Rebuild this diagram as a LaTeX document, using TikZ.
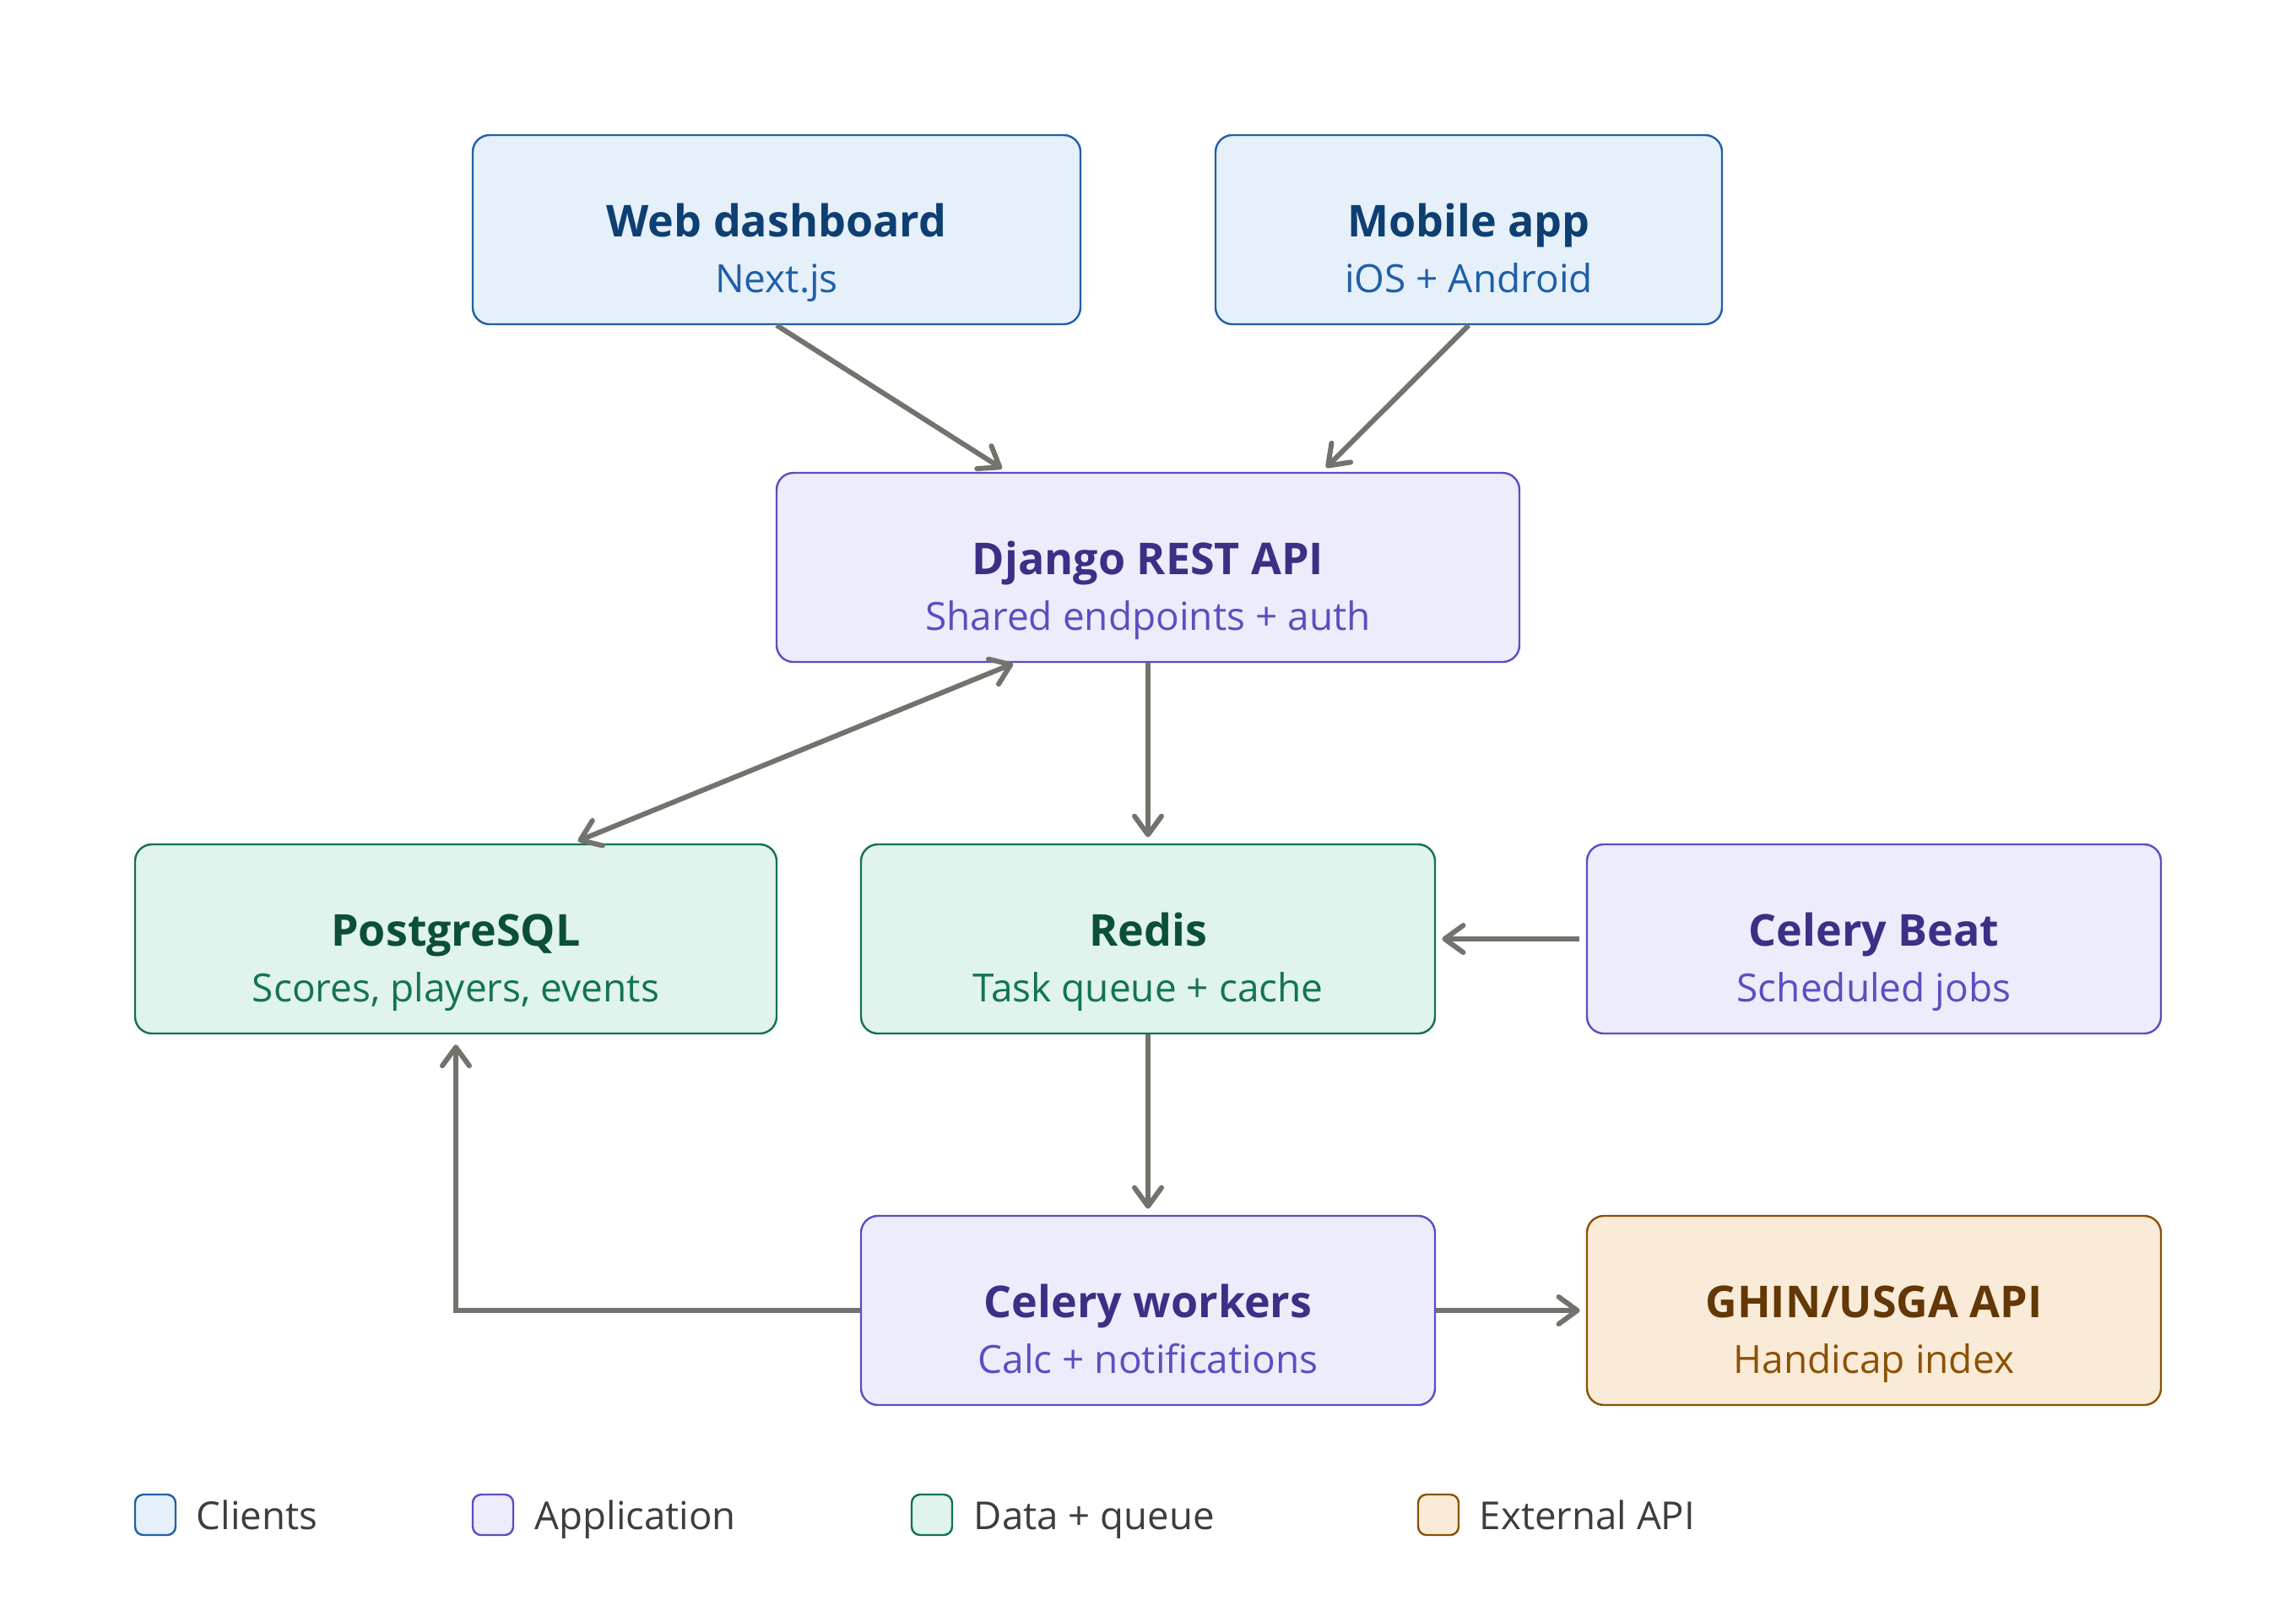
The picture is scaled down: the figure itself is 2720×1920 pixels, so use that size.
\documentclass[tikz,border=0pt]{standalone}
\usepackage{fontspec}
\setmainfont{Open Sans}
\usetikzlibrary{arrows.meta}
\definecolor{cliFill}{HTML}{E6F0FA}\definecolor{cliLine}{HTML}{2160A8}\definecolor{cliTtl}{HTML}{0E3F73}\definecolor{cliSub}{HTML}{1F5FA8}
\definecolor{appFill}{HTML}{EDECFC}\definecolor{appLine}{HTML}{5A4FC0}\definecolor{appTtl}{HTML}{3B2F86}\definecolor{appSub}{HTML}{5A4FC0}
\definecolor{datFill}{HTML}{E0F3EC}\definecolor{datLine}{HTML}{137155}\definecolor{datTtl}{HTML}{0B4F3A}\definecolor{datSub}{HTML}{137357}
\definecolor{extFill}{HTML}{FAEBD8}\definecolor{extLine}{HTML}{8B5205}\definecolor{extTtl}{HTML}{633806}\definecolor{extSub}{HTML}{8B5205}
\definecolor{arr}{HTML}{73736D}\definecolor{legTxt}{HTML}{3D3D3A}
\tikzset{
  box/.style={draw=#1Line,fill=#1Fill,line width=0.6pt,rounded corners=5pt,minimum height=56pt,inner sep=0pt},
  ttl/.style={anchor=base,text=#1Ttl,font=\fontsize{13}{16}\selectfont\bfseries},
  sub/.style={anchor=base,text=#1Sub,font=\fontsize{11.5}{13}\selectfont},
  tipx/.tip={Straight Barb[length=5.5pt,width=8pt,line width=1.5pt,round]},
  conn/.style={draw=arr,line width=1.5pt,-tipx,shorten >=1.8pt},
  legbox/.style={draw=#1Line,fill=#1Fill,line width=0.6pt,rounded corners=2.5pt,minimum width=12pt,minimum height=12pt,inner sep=0pt},
  legtxt/.style={anchor=base west,inner sep=0pt,text=legTxt,font=\fontsize{11.4}{13}\selectfont}
}
\newcommand\compbox[7]{% name, kind, center, width(pt), title, subtitle
  \node[box=#2,minimum width=#4] (#1) at (#3) {};
  \node[ttl=#2] (#1t) at ([yshift=-30.3pt]#1.north) {#5};
  \node[sub=#2] (#1s) at ([yshift=-47pt]#1.north) {#6};
}
\begin{document}
\begin{tikzpicture}[x=0.25pt,y=-0.25pt]
\path[use as bounding box,fill=white] (0,0) rectangle (2720,1920);
\compbox{web}{cli}{920,272}{180pt}{Web dashboard}{Next.js}{}
\compbox{mob}{cli}{1740,272}{150pt}{Mobile app}{iOS + Android}{}
\compbox{api}{app}{1360,672}{220pt}{Django REST API}{Shared endpoints + auth}{}
\compbox{pg}{dat}{540,1112}{190pt}{PostgreSQL}{Scores, players, events}{}
\compbox{redis}{dat}{1360,1112}{170pt}{Redis}{Task queue + cache}{}
\compbox{beat}{app}{2220,1112}{170pt}{Celery Beat}{Scheduled jobs}{}
\compbox{work}{app}{1360,1552}{170pt}{Celery workers}{Calc + notifications}{}
\compbox{ghin}{ext}{2220,1552}{170pt}{GHIN/USGA API}{Handicap index}{}
% connectors
\draw[conn] (web.south) -- ([xshift=-41.75pt]api.north);
\draw[conn] (mob.south) -- ([xshift=51.5pt]api.north);
\draw[conn,tipx-tipx,shorten <=0.5pt] ([xshift=-39.5pt]api.south) -- ([xshift=34.5pt]pg.north);
\draw[conn] (api.south) -- (redis.north);
\draw[conn,shorten <=2pt] (beat.west) -- (redis.east);
\draw[conn] (redis.south) -- (work.north);
\draw[conn,shorten >=3pt] (work.west) -| (pg.south);
\draw[conn] (work.east) -- (ghin.west);
% legend
\node[legbox=cli] (l1) at (184,1794) {};
\node[legtxt] (l1t) at (232,1811) {Clients};
\node[legbox=app] (l2) at (584,1794) {};
\node[legtxt] (l2t) at (633,1811) {Application};
\node[legbox=dat] (l3) at (1104,1794) {};
\node[legtxt] (l3t) at (1153,1811) {Data + queue};
\node[legbox=ext] (l4) at (1704,1794) {};
\node[legtxt] (l4t) at (1752,1811) {External API};
\end{tikzpicture}
\end{document}
